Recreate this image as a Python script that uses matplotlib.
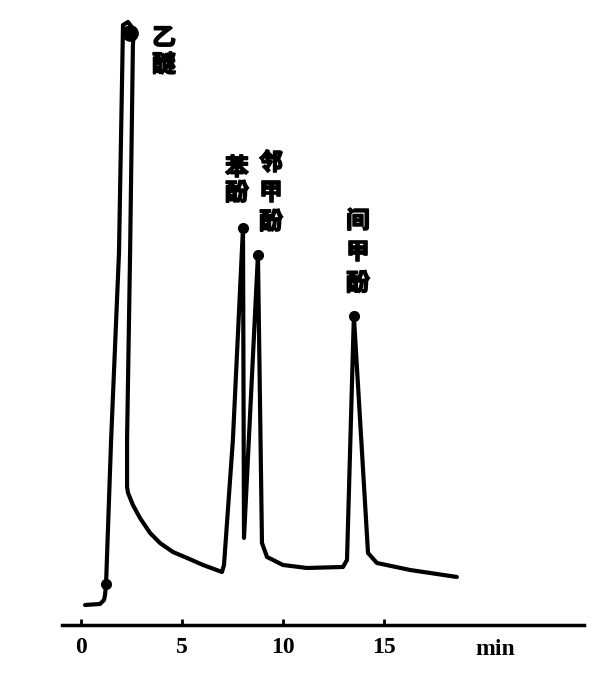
import matplotlib
matplotlib.use("Agg")
import matplotlib.pyplot as plt
import matplotlib.patheffects as pe

# chromatogram trace: time (min), detector response (a.u.)
time = [0.20, 0.94, 1.14, 1.19, 1.24, 1.49, 1.88, 2.08, 2.33, 2.62, 2.57, 2.43, 2.28, 2.28,
        2.33, 2.57, 2.92, 3.42, 3.91, 4.55, 5.25, 6.04, 6.98, 7.08, 7.52, 8.02, 8.07,
        8.76, 8.96, 9.21, 10.0, 11.19, 12.97, 13.17, 13.51, 14.21, 14.65, 16.29, 18.61]
signal = [20, 21, 25, 30, 41, 185, 372, 600, 603, 595, 580, 372, 185, 138,
          132, 120, 107, 92, 82, 73, 67, 60, 53, 60, 185, 397, 87,
          370, 82, 68, 60, 57, 58, 65, 309, 72, 62, 55, 48]

# marked points (injection + peak tops)
dot_t = [1.24, 8.02, 8.76, 13.51]
dot_r = [41, 397, 370, 309]
ether_top = (2.45, 592)

peak_names = ["乙醚", "苯酚", "邻甲酚", "间甲酚"]
label_t = [4.11, 7.72, 9.41, 13.71]
label_r = [599, 469, 474, 416]
label_pitch = [1.15, 1.06, 1.29, 1.38]

ticks = [0, 5, 10, 15]

fig = plt.figure(figsize=(6, 6.88), dpi=100)
ax = fig.add_axes([0.1, 0.0916, 0.8833, 0.9084])

ax.plot(time, signal, color="black", lw=3, solid_joinstyle="round",
        solid_capstyle="round", clip_on=False)
ax.plot(dot_t, dot_r, "o", color="black", ms=7, clip_on=False)
ax.plot(*ether_top, "o", color="black", ms=11, clip_on=False)

for name, t, r, ls in zip(peak_names, label_t, label_r, label_pitch):
    ax.text(t, r, "\n".join(name), ha="center", va="top", fontsize=17,
            fontweight="bold", linespacing=ls,
            family=["Noto Sans CJK SC", "DejaVu Sans"],
            path_effects=[pe.withStroke(linewidth=1.2, foreground="black")])

ax.set_xlim(-1.04, 25.2)
ax.set_ylim(0, 625)
for s in ["left", "right", "top"]:
    ax.spines[s].set_visible(False)
ax.spines["bottom"].set_linewidth(2.5)
ax.spines["bottom"].set_bounds(-0.95, 24.9)
ax.set_yticks([])
ax.set_xticks(ticks)
ax.set_xticklabels([str(t) for t in ticks], family="Liberation Serif",
                   fontweight="bold", fontsize=17)
ax.tick_params(axis="x", direction="in", length=4, width=2, pad=9)
ax.text(20.5, -25, "min", ha="center", va="center", family="Liberation Serif",
        fontweight="bold", fontsize=17)

fig.savefig("out.png", dpi=100)
